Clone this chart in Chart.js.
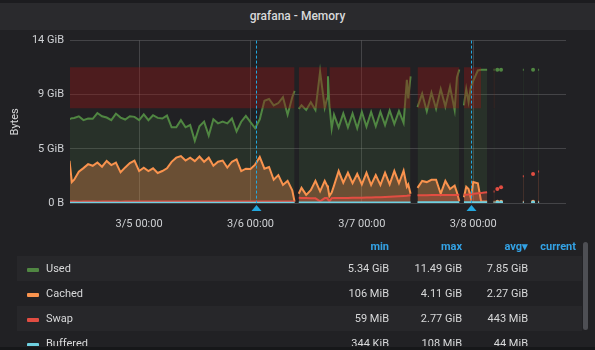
<!DOCTYPE html>
<html>
<head>
<meta charset="utf-8">
<script src="https://cdn.jsdelivr.net/npm/chart.js@4.4.1/dist/chart.umd.min.js"></script>
<style>
  body { margin: 0; width: 595px; height: 350px; background: #212124; overflow: hidden; position: relative;
         font-family: Roboto, "Noto Sans", sans-serif; }
  #topline { position: absolute; left: 0; top: 0; width: 595px; height: 3px; background: #1c1c1f; }
  #title { position: absolute; left: 0; top: 3px; width: 595px; height: 27px; line-height: 27px; background: #2a2a2d;
           color: #d8d9da; font-size: 12px; font-weight: 500; text-align: center; }
  #wrap { position: absolute; left: 0; top: 28px; width: 595px; height: 212px; }
  #legend { position: absolute; left: 17px; top: 236px; width: 565px; height: 110px; overflow: hidden;
            font-size: 11px; color: #d8d9da; }
  .head { position: absolute; left: 0; top: 1px; width: 565px; height: 20px; line-height: 20px;
          color: #33a2e5; font-weight: bold; }
  .row { position: absolute; left: 0; width: 565px; height: 25px; line-height: 25px; }
  .row.odd { background: #27272a; }
  .sw { position: absolute; left: 10px; top: 12px; width: 12px; height: 4px; border-radius: 1px; }
  .name { position: absolute; left: 29px; }
  .val { position: absolute; white-space: nowrap; }
  .c1 { right: 193px; } .c2 { right: 120px; } .c3 { right: 54px; } .c4 { right: 6px; }
  #scroll { position: absolute; left: 583px; top: 242px; width: 5px; height: 88px; background: #4e4f54; border-radius: 3px; }
  #bottom { position: absolute; left: 0; top: 347px; width: 595px; height: 3px; background: #161719; }
</style>
</head>
<body>
<div id="topline"></div>
<div id="title">grafana - Memory</div>
<div id="wrap"><canvas id="chart" width="595" height="212"></canvas></div>
<div id="legend">
  <div class="head"><span class="val c1">min</span><span class="val c2">max</span><span class="val c3">avg▾</span><span class="val c4">current</span></div>
</div>
<div id="scroll"></div>
<div id="bottom"></div>
<script>
// time axis: hours after 3/4 00:00
const hours = [
  9, 9.5, 10, 11, 12, 13, 14, 15, 16, 17,
  18, 19, 20, 21, 22, 23, 24, 25, 26, 27,
  28, 29, 30, 31, 32, 33, 34, 35, 36, 37,
  38, 39, 40, 41, 42, 43, 44, 45, 46, 47,
  48, 49, 50, 51, 52, 53, 54, 55, 56, 57,
  57.5, 57.9, 58.4, 59, 60, 61, 62, 63, 64, 64.5,
  64.7, 65, 65.5, 66, 67, 68, 69, 70, 71, 72,
  73, 74, 75, 76, 77, 78, 79, 80, 81, 81.7,
  82, 82.5, 83.4, 84, 85, 86, 87, 88, 89, 90,
  91, 92, 92.5, 93, 93.6, 94, 94.5, 95, 95.5, 96,
  97, 97.7, 98, 99, 99.6, 100.4, 100.6, 100.9, 101.2, 101.6,
  102, 102.4, 106.7, 106.9, 107.2, 108.9, 109.4, 110, 110.2, 110.5
];

// values in GiB
const usedGiB = [
  7.21, 7.30, 7.32, 7.46, 7.13, 7.27, 7.24, 7.74, 7.46, 7.35,
  7.13, 7.69, 7.35, 7.18, 7.46, 7.41, 7.13, 7.63, 7.13, 7.55,
  7.32, 7.27, 7.52, 6.51, 6.51, 7.13, 6.51, 6.71, 5.35, 6.60,
  7.00, 5.80, 7.20, 6.85, 7.00, 6.85, 7.27, 6.15, 6.99, 7.50,
  6.95, 6.43, 7.20, 8.80, 8.95, 8.40, 8.60, 9.10, 7.60, 9.10,
  9.65, null, 8.10, 8.40, 8.00, 8.67, 8.00, 11.30, 8.20, 9.00,
  10.90, 8.50, 6.40, 7.60, 6.50, 7.70, 6.50, 7.70, 6.43, 7.83,
  6.57, 7.83, 6.60, 7.83, 6.70, 7.97, 6.80, 7.90, 6.90, 10.60,
  9.00, 10.90, null, 8.25, 9.40, 7.90, 9.50, 8.10, 9.80, 8.30,
  10.00, 8.00, 10.80, 11.49, null, 8.40, 9.80, 8.70, 10.00, 10.50,
  11.40, 11.47, 11.47, 11.47, null, 11.47, 11.47, null, 11.47, null,
  11.47, null, 11.47, 11.47, null, 11.47, null, 11.47, 11.47, null
];
const cachedGiB = [
  3.62, 1.80, 2.00, 2.69, 3.00, 3.34, 3.20, 3.48, 3.12, 3.62,
  3.26, 3.48, 2.64, 3.06, 3.43, 3.65, 2.75, 3.03, 2.75, 2.98,
  2.58, 2.75, 2.98, 3.54, 3.90, 4.04, 3.65, 3.90, 3.60, 4.00,
  3.55, 3.90, 3.20, 3.55, 3.65, 3.05, 3.55, 3.75, 2.75, 2.95,
  2.92, 3.30, 3.95, 2.95, 3.10, 2.00, 2.40, 1.55, 1.90, 1.10,
  0.12, null, 0.80, 1.30, 0.70, 1.10, 1.90, 1.00, 1.90, 1.50,
  1.30, 0.60, 0.90, 1.50, 2.75, 1.75, 2.60, 1.70, 2.50, 1.60,
  2.60, 1.55, 2.40, 1.55, 2.60, 1.60, 2.75, 1.70, 2.78, 1.40,
  1.60, 0.80, null, 1.30, 1.90, 1.80, 2.00, 2.00, 0.80, 1.90,
  1.20, 1.50, 0.90, 0.15, null, 0.50, 1.40, 1.20, 0.40, 1.80,
  1.70, 0.15, 0.12, 0.12, null, 0.10, 0.10, null, 0.10, null,
  0.10, null, 0.10, 0.10, null, 0.10, null, 0.10, 0.10, null
];
const swapGiB = [
  0.12, 0.12, 0.12, 0.11, 0.12, 0.12, 0.12, 0.11, 0.12, 0.12,
  0.12, 0.12, 0.11, 0.12, 0.12, 0.12, 0.12, 0.12, 0.12, 0.12,
  0.12, 0.12, 0.12, 0.12, 0.12, 0.12, 0.12, 0.12, 0.12, 0.12,
  0.12, 0.12, 0.12, 0.12, 0.12, 0.12, 0.12, 0.12, 0.12, 0.12,
  0.12, 0.12, 0.12, 0.12, 0.12, 0.12, 0.12, 0.12, 0.12, 0.12,
  0.12, null, 0.45, 0.44, 0.42, 0.40, 0.40, 0.15, 0.42, 0.42,
  0.42, 0.15, 0.42, 0.43, 0.43, 0.44, 0.44, 0.45, 0.45, 0.46,
  0.47, 0.48, 0.49, 0.50, 0.52, 0.54, 0.56, 0.58, 0.60, 0.62,
  0.64, 0.66, null, 0.67, 0.67, 0.67, 0.68, 0.68, 0.68, 0.68,
  0.69, 0.69, 0.69, 0.70, null, 0.70, 0.72, 0.74, 0.76, 0.80,
  0.84, 0.87, 0.88, 0.93, null, 1.00, 1.00, null, 1.20, null,
  1.35, null, 2.30, 2.30, null, 2.50, null, 2.72, 2.72, null
];
const bufferedGiB = [
  0.02, 0.02, 0.02, 0.02, 0.02, 0.02, 0.02, 0.02, 0.02, 0.02,
  0.02, 0.02, 0.02, 0.02, 0.02, 0.02, 0.02, 0.02, 0.02, 0.02,
  0.02, 0.02, 0.02, 0.02, 0.02, 0.02, 0.02, 0.02, 0.02, 0.02,
  0.02, 0.02, 0.02, 0.02, 0.02, 0.02, 0.02, 0.02, 0.02, 0.02,
  0.02, 0.02, 0.02, 0.02, 0.02, 0.02, 0.02, 0.02, 0.02, 0.02,
  0.02, null, 0.05, 0.05, 0.05, 0.05, 0.05, 0.05, 0.05, 0.05,
  0.05, 0.05, 0.05, 0.05, 0.05, 0.05, 0.05, 0.05, 0.05, 0.05,
  0.05, 0.05, 0.05, 0.05, 0.05, 0.05, 0.05, 0.05, 0.05, 0.05,
  0.05, 0.05, null, 0.06, 0.06, 0.06, 0.06, 0.06, 0.06, 0.06,
  0.06, 0.06, 0.06, 0.06, null, 0.07, 0.07, 0.07, 0.07, 0.07,
  0.07, 0.07, 0.07, 0.07, null, 0.05, 0.05, null, 0.05, null,
  0.05, null, 0.04, 0.04, null, 0.05, null, 0.04, 0.04, null
];
// red alert band: from alertBandBottom up to these values
const alertBandTop = [
  11.68, 11.68, 11.68, 11.68, 11.68, 11.68, 11.68, 11.68, 11.68, 11.68,
  11.68, 11.68, 11.68, 11.68, 11.68, 11.68, 11.68, 11.68, 11.68, 11.68,
  11.68, 11.68, 11.68, 11.68, 11.68, 11.68, 11.68, 11.68, 11.68, 11.68,
  11.68, 11.68, 11.68, 11.68, 11.68, 11.68, 11.68, 11.68, 11.68, 11.68,
  11.68, 11.68, 11.68, 11.68, 11.68, 11.68, 11.68, 11.68, 11.68, 11.68,
  11.68, null, 11.68, 11.68, 11.68, 11.68, 11.68, 11.68, 11.68, 11.68,
  null, 11.68, 11.68, 11.68, 11.68, 11.68, 11.68, 11.68, 11.68, 11.68,
  11.68, 11.68, 11.68, 11.68, 11.68, 11.68, 11.68, 11.68, 11.68, 11.68,
  11.68, 11.68, null, 11.68, 11.68, 11.68, 11.68, 11.68, 11.68, 11.68,
  11.68, 11.68, 11.68, 11.68, null, 11.68, 11.68, 11.68, 11.68, 11.68,
  11.68, 11.68, null, null, null, 11.68, 11.68, null, null, null,
  null, null, null, null, null, null, null, null, null, null
];
const alertBandBottom = 8.16;

const yTickValues = [0, 4.657, 9.313, 13.97];
const yTickLabels = ['0 B', '5 GiB', '9 GiB', '14 GiB'];
const xTickValues = [24, 48, 72, 96];
const xTickLabels = ['3/5 00:00', '3/6 00:00', '3/7 00:00', '3/8 00:00'];
const annotationHours = [49.1, 95.5];

const seriesNames = ['Used', 'Cached', 'Swap', 'Buffered'];
const legendMin = ['5.34 GiB', '106 MiB', '59 MiB', '344 KiB'];
const legendMax = ['11.49 GiB', '4.11 GiB', '2.77 GiB', '108 MiB'];
const legendAvg = ['7.85 GiB', '2.27 GiB', '443 MiB', '44 MiB'];

const seriesColors = ['#508642', '#F9934E', '#E24D42', '#6ED0E0'];
const seriesFills = ['rgba(80,134,66,0.16)', 'rgba(249,147,78,0.32)', 'rgba(226,77,66,0.25)', 'rgba(110,208,224,0.2)'];

// draw a dot only where a point has no neighbours
let dotRadius = (c) => {
    let d = c.dataset.data, i = c.dataIndex;
    return (d[i] != null && d[i - 1] == null && d[i + 1] == null) ? 2 : 0;
};

let makeSeries = (i, values) => ({
    label: seriesNames[i],
    data: values,
    borderColor: seriesColors[i],
    backgroundColor: seriesFills[i],
    pointBackgroundColor: seriesColors[i],
    pointBorderWidth: 0,
    pointRadius: dotRadius,
    borderWidth: 2,
    fill: 'origin',
    order: 5 - i,
});

const annotationPlugin = {
    id: 'annotations',
    afterDatasetsDraw(chart) {
        const {ctx, chartArea, scales: {x}} = chart;
        ctx.save();
        annotationHours.forEach((h) => {
            let px = Math.round(x.getPixelForValue(h)) + 0.5;
            ctx.strokeStyle = '#22a7de';
            ctx.lineWidth = 1;
            ctx.setLineDash([3, 2]);
            ctx.beginPath();
            ctx.moveTo(px, chartArea.top);
            ctx.lineTo(px, chartArea.bottom);
            ctx.stroke();
            ctx.setLineDash([]);
            ctx.fillStyle = '#22a7de';
            ctx.beginPath();
            ctx.moveTo(px, chartArea.bottom + 2);
            ctx.lineTo(px - 5, chartArea.bottom + 8);
            ctx.lineTo(px + 5, chartArea.bottom + 8);
            ctx.closePath();
            ctx.fill();
        });
        ctx.restore();
    }
};

Chart.defaults.font.family = 'Roboto, "Noto Sans", sans-serif';

const chart = new Chart(document.getElementById('chart').getContext('2d'), {
    type: 'line',
    data: {
        labels: hours,
        datasets: [
            makeSeries(0, usedGiB),
            makeSeries(1, cachedGiB),
            makeSeries(2, swapGiB),
            makeSeries(3, bufferedGiB),
            {
                label: 'alert',
                data: alertBandTop,
                borderWidth: 0,
                borderColor: 'rgba(0,0,0,0)',
                backgroundColor: 'rgba(150,20,20,0.38)',
                pointRadius: 0,
                fill: {value: alertBandBottom},
                order: 0,
            }
        ]
    },
    options: {
        responsive: false,
        animation: false,
        layout: {padding: {top: 9, right: 29, left: 0, bottom: 0}},
        elements: {line: {tension: 0}},
        plugins: {legend: {display: false}, tooltip: {enabled: false}},
        scales: {
            x: {
                type: 'linear',
                min: 9.1,
                max: 116,
                afterBuildTicks: (s) => { s.ticks = xTickValues.map((v) => ({value: v})); },
                afterFit: (s) => { s.height = 37; },
                ticks: {
                    callback: (v, i) => xTickLabels[i],
                    color: '#cfd1d4',
                    font: {size: 11},
                    padding: 15,
                    maxRotation: 0,
                    autoSkip: false,
                },
                grid: {color: 'rgba(255,255,255,0.16)', drawTicks: false},
                border: {display: false},
            },
            y: {
                min: 0,
                max: 13.97,
                afterBuildTicks: (s) => { s.ticks = yTickValues.map((v) => ({value: v})); },
                afterFit: (s) => { s.width = 70; },
                ticks: {
                    callback: (v, i) => yTickLabels[i],
                    color: '#cfd1d4',
                    font: {size: 11},
                    padding: 6,
                    autoSkip: false,
                },
                title: {
                    display: true,
                    text: 'Bytes',
                    color: '#d8d9da',
                    font: {size: 11},
                    padding: {top: 9, bottom: 0},
                },
                grid: {color: 'rgba(255,255,255,0.16)', drawTicks: false},
                border: {display: false},
            }
        }
    },
    plugins: [annotationPlugin]
});

// legend table
const legend = document.getElementById('legend');
seriesNames.forEach((name, i) => {
    let row = document.createElement('div');
    row.className = 'row' + (i % 2 === 0 ? ' odd' : '');
    row.style.top = (20 + i * 25) + 'px';
    row.innerHTML = '<span class="sw" style="background:' + seriesColors[i] + '"></span>' +
        '<span class="name">' + name + '</span>' +
        '<span class="val c1">' + legendMin[i] + '</span>' +
        '<span class="val c2">' + legendMax[i] + '</span>' +
        '<span class="val c3">' + legendAvg[i] + '</span>';
    legend.appendChild(row);
});
</script>
</body>
</html>
